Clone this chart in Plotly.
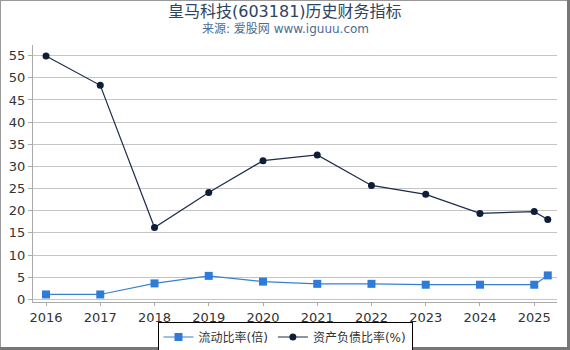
import plotly.graph_objects as go

years = [2016, 2017, 2018, 2019, 2020, 2021, 2022, 2023, 2024, 2025, 2025.25]
current_ratio = [1.1, 1.1, 3.6, 5.3, 4.0, 3.5, 3.5, 3.3, 3.3, 3.3, 5.4]
debt_ratio = [54.9, 48.3, 16.2, 24.1, 31.3, 32.6, 25.7, 23.7, 19.4, 19.8, 18.0]
tick_years = [2016, 2017, 2018, 2019, 2020, 2021, 2022, 2023, 2024, 2025]
y_ticks = [0, 5, 10, 15, 20, 25, 30, 35, 40, 45, 50, 55]
title_text = "皇马科技(603181)历史财务指标"
subtitle_text = "来源: 爱股网 www.iguuu.com"

font_main = "DejaVu Sans, Noto Sans CJK SC, sans-serif"

fig = go.Figure()
fig.add_trace(go.Scatter(
    x=years, y=current_ratio, name="流动比率(倍)", mode="lines+markers",
    line=dict(color="#3a7fd5", width=1.2),
    marker=dict(symbol="square", size=8, color="#2f7bd8"),
))
fig.add_trace(go.Scatter(
    x=years, y=debt_ratio, name="资产负债比率(%)", mode="lines+markers",
    line=dict(color="#1c2c48", width=1.2),
    marker=dict(symbol="circle", size=7, color="#0e1d38"),
))

L, R, T, B = 33, 13, 45, 48
W, H = 570, 350
pw, ph = W - L - R, H - T - B

def px_x(p):
    return (p - L) / pw

def px_y(p):
    return (H - B - p) / ph

shapes = [
    dict(type="line", xref="paper", yref="paper", x0=px_x(0.5), x1=px_x(0.5), y0=px_y(0), y1=px_y(350), line=dict(color="#999999", width=1)),
    dict(type="line", xref="paper", yref="paper", x0=px_x(0), x1=px_x(570), y0=px_y(0.5), y1=px_y(0.5), line=dict(color="#999999", width=1)),
    dict(type="line", xref="paper", yref="paper", x0=px_x(568.5), x1=px_x(568.5), y0=px_y(0), y1=px_y(350), line=dict(color="#777777", width=3)),
    dict(type="line", xref="paper", yref="paper", x0=px_x(0), x1=px_x(570), y0=px_y(348.5), y1=px_y(348.5), line=dict(color="#777777", width=3)),
]

annotations = [
    dict(text=title_text, xref="paper", yref="paper", x=px_x(285), y=px_y(11), xanchor="center", yanchor="middle",
         showarrow=False, font=dict(size=16, color="#2d4460", family=font_main)),
    dict(text=subtitle_text, xref="paper", yref="paper", x=px_x(285), y=px_y(28.5), xanchor="center", yanchor="middle",
         showarrow=False, font=dict(size=12, color="#4a6d94", family=font_main)),
]

fig.update_layout(
    width=W, height=H,
    margin=dict(l=L, r=R, t=T, b=B, autoexpand=False),
    paper_bgcolor="white", plot_bgcolor="white",
    font=dict(family=font_main, color="#333333", size=13),
    xaxis=dict(
        range=[2015.76, 2025.42], tickvals=tick_years, ticktext=[str(t) for t in tick_years],
        showgrid=False, zeroline=False, showline=True, linecolor="#aaaaaa", linewidth=1,
        ticks="outside", ticklen=3, tickcolor="#aaaaaa", tickfont=dict(size=13, color="#333333"),
        automargin=False,
    ),
    yaxis=dict(
        range=[-0.6, 57.4], tickvals=y_ticks, showgrid=True, gridcolor="#c4c4c4", gridwidth=1,
        zeroline=False, showline=True, linecolor="#aaaaaa", linewidth=1,
        ticks="outside", ticklen=4, tickcolor="#aaaaaa", tickfont=dict(size=13, color="#333333"),
        automargin=False,
    ),
    legend=dict(
        orientation="h", x=px_x(285), xanchor="center", y=px_y(337), yanchor="middle",
        bordercolor="#000000", borderwidth=1, bgcolor="white",
        font=dict(size=12, color="#333333", family=font_main),
        tracegroupgap=0, itemwidth=30,
    ),
    shapes=shapes,
    annotations=annotations,
    showlegend=True,
)

fig.write_html("out.html")
